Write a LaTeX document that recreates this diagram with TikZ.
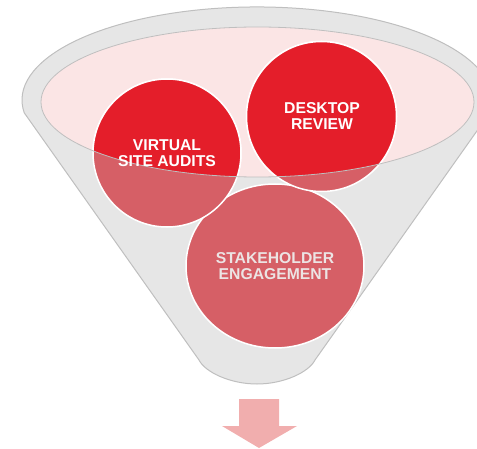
\documentclass[tikz,border=0pt]{standalone}
\usepackage{fontspec}
\setmainfont{Liberation Sans}
\definecolor{funnelgray}{HTML}{E6E6E6}
\definecolor{edgegray}{HTML}{BFBFBF}
\definecolor{rimpink}{HTML}{FBE5E5}
\definecolor{brightred}{HTML}{E41E2A}
\definecolor{mutedred}{HTML}{D65F66}
\definecolor{arrowpink}{HTML}{F1AEAE}
\definecolor{softtext}{HTML}{ECE4E4}
\begin{document}
\begin{tikzpicture}[x=1pt,y=1pt,
  circletext/.style={font=\bfseries\fontsize{15.7}{16}\selectfont, align=center, inner sep=0pt},
  ballrim/.style={draw=white, line width=1.5pt}]
\useasboundingbox (0,0) rectangle (477,448);
\clip (0,0) rectangle (477,448);
% funnel body
\path[fill=funnelgray, draw=edgegray, line width=1pt]
  (24.3,335.1) -- (199,88) .. controls (205,76) and (230,64) .. (257,64)
  .. controls (284,64) and (309,76) .. (315,88) -- (489.7,335.1)
  arc[start angle=-8, end angle=188, x radius=235, y radius=93] -- cycle;
% inner rim
\fill[rimpink] (257.5,346) ellipse[x radius=216.5, y radius=75];
% balls (muted part)
\path[fill=mutedred, ballrim] (275,182) ellipse[x radius=89, y radius=82];
\path[fill=mutedred, ballrim] (167,295) circle[radius=74];
\path[fill=mutedred, ballrim] (321.5,331.5) circle[radius=75];
% balls (bright part inside the rim)
\begin{scope}
  \clip (257.5,346) ellipse[x radius=216.5, y radius=75];
  \path[fill=brightred, ballrim] (167,295) circle[radius=74];
  \path[fill=brightred, ballrim] (321.5,331.5) circle[radius=75];
\end{scope}
\draw[edgegray, line width=0.8pt] (257.5,346) ellipse[x radius=216.5, y radius=75];
% labels
\node[circletext, text=white] (va) at (167,295) {VIRTUAL\\SITE AUDITS};
\node[circletext, text=white] (dr) at (322,332) {DESKTOP\\REVIEW};
\node[circletext, text=softtext] (se) at (275,182) {STAKEHOLDER\\ENGAGEMENT};
% arrow
\fill[arrowpink] (239,49) -- (279,49) -- (279,22) -- (297,22) -- (259,0) -- (222,22) -- (239,22) -- cycle;
\end{tikzpicture}
\end{document}
